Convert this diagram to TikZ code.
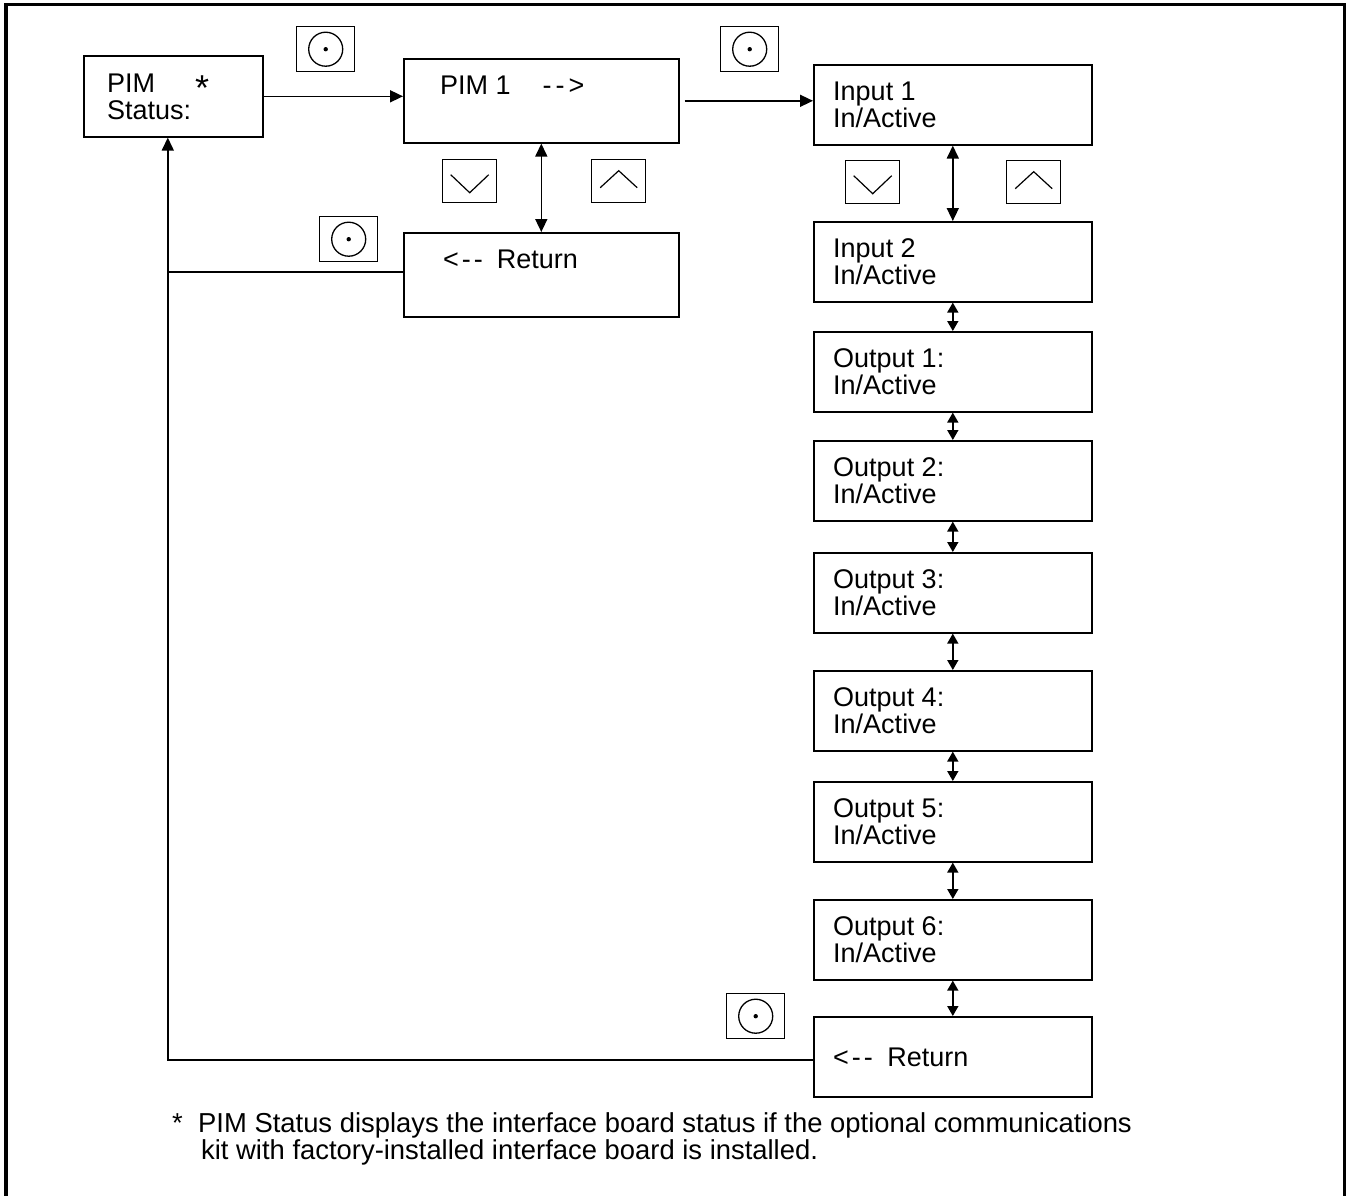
\documentclass[tikz,border=0pt]{standalone}
\usepackage{fontspec}
\setmainfont{Liberation Sans}
\usetikzlibrary{arrows.meta,calc}
\begin{document}
\begin{tikzpicture}[x=1pt,y=-1pt,
  panel/.style={draw,line width=1.6pt,anchor=north west,inner sep=0pt,minimum width=#1},
  panel/.default=278pt,
  btn/.style={draw,line width=1.4pt,anchor=north west,inner sep=0pt,minimum width=58pt,minimum height=45pt},
  arrbtn/.style={draw,line width=1.4pt,anchor=north west,inner sep=0pt,minimum width=54pt,minimum height=43pt},
  txt/.style={anchor=base west,inner sep=0pt,font=\fontsize{27}{27}\selectfont},
  foot/.style={anchor=base west,inner sep=0pt,font=\fontsize{27.4}{27.4}\selectfont},
  arr/.style={line width=1.6pt,-{Triangle[length=13pt,width=12pt]}},
  darr/.style={line width=1.6pt,{Triangle[length=13pt,width=12pt]}-{Triangle[length=13pt,width=12pt]}},
  sdarr/.style={line width=1.6pt,{Triangle[length=10pt,width=11pt]}-{Triangle[length=10pt,width=11pt]}},
  chev/.style={line width=1.2pt}
]
\useasboundingbox (0,0) rectangle (1348,1195);
% outer frame (open at the bottom)
\draw[line width=3.5pt] (6,1200) -- (6,4.5) -- (1344.5,4.5) -- (1344.5,1200);

% left column
\node[panel=179pt,minimum height=81pt] (pim) at (83,55) {};
\node[txt] (pimt1) at (107,92) {PIM};
\node[txt,font=\fontsize{36}{36}\selectfont] (pimstar) at (195,100) {*};
\node[txt] (pimt2) at (107,119) {Status:};

% middle column
\node[panel=275pt,minimum height=84pt] (pim1) at (403,58) {};
\node[txt] (pim1t) at (440,94) {PIM 1\kern32pt-\kern4pt-\kern4pt>};
\node[panel=275pt,minimum height=84pt] (ret1) at (403,232) {};
\node[txt] (ret1t) at (443,268) {<\kern3pt-\kern3pt-\kern14pt Return};

% right column
\foreach \nm/\top/\la in {in1/64/Input 1,in2/221/Input 2,out1/331/Output 1:,out2/440/Output 2:,out3/552/Output 3:,out4/670/Output 4:,out5/781/Output 5:,out6/899/Output 6:}{
  \node[panel,minimum height=80pt] (\nm) at (813,\top) {};
  \node[txt] (\nm a) at (833,\top+36) {\la};
  \node[txt] (\nm b) at (833,\top+63) {In/Active};
}
\node[panel,minimum height=80pt] (ret2) at (813,1016) {};
\node[txt] (ret2t) at (833,1066) {<\kern3pt-\kern3pt-\kern14.5pt Return};

% select buttons
\foreach \nm/\px/\py in {b1/296/26,b2/720/26,b3/319/216,b4/726/993}{
  \node[btn] (\nm) at (\px,\py) {};
  \draw[line width=1.3pt] (\nm.center) circle[radius=17pt];
  \fill (\nm.center) circle[radius=2.2pt];
}
% down / up buttons
\foreach \nm/\px/\py in {dn1/442/159,dn2/845/160}{
  \node[arrbtn] (\nm) at (\px,\py) {};
  \draw[chev] (\nm.center) ++(-19,-6.5) -- ++(19,18) -- ++(19,-18);
}
\foreach \nm/\px/\py in {up1/591/159,up2/1006/160}{
  \node[arrbtn] (\nm) at (\px,\py) {};
  \draw[chev] (\nm.center) ++(-18.5,6.5) -- ++(18.5,-17) -- ++(18.5,17);
}

% connectors
\coordinate (loopx) at ([xshift=-5.5pt]pim.south);
\draw[arr] (pim.east) -- (pim.east -| pim1.west);
\draw[arr] ([xshift=5pt]pim1.east) -- (pim1.east -| in1.west);
\draw[darr] (pim1.south) -- (ret1.north);
\draw[line width=1.6pt] ([yshift=3pt]ret1.west) -- ([yshift=3pt]ret1.west -| loopx);
\draw[arr] ([yshift=-3pt]ret2.west) -| (loopx);
\draw[darr] (in1.south) -- (in2.north);
\draw[sdarr] (in2.south) -- (out1.north);
\draw[sdarr] (out1.south) -- (out2.north);
\draw[sdarr] (out2.south) -- (out3.north);
\draw[sdarr] (out3.south) -- (out4.north);
\draw[sdarr] (out4.south) -- (out5.north);
\draw[sdarr] (out5.south) -- (out6.north);
\draw[sdarr] (out6.south) -- (ret2.north);

% footnote
\node[foot] (fstar) at (172,1132) {*};
\node[foot] (f1) at (198,1132) {PIM Status displays the interface board status if the optional communications};
\node[foot] (f2) at (201,1159) {kit with factory-installed interface board is installed.};
\end{tikzpicture}
\end{document}
